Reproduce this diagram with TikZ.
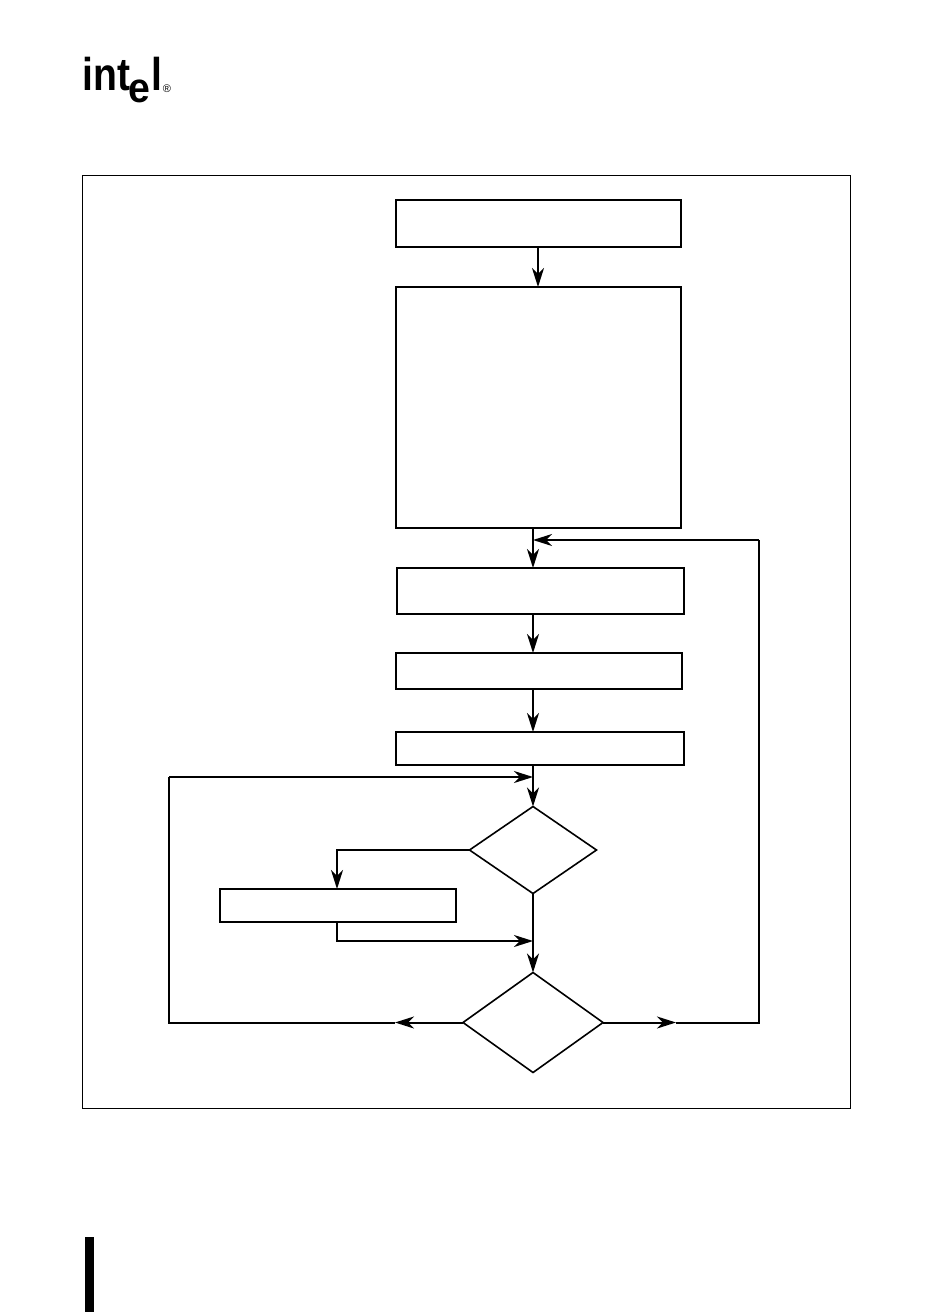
\documentclass[tikz,border=0pt]{standalone}
\usepackage{fontspec}
\setmainfont{Liberation Sans}
\usetikzlibrary{
  arrows.meta,
  shapes.geometric
}

\begin{document}
\begin{tikzpicture}[
  x=1pt, y=-1pt,
  every node/.style={inner sep=0pt, outer sep=0pt},
  flowbox/.style={draw, line width=2pt, minimum width=285pt},
  choice/.style={draw, diamond, line width=1.6pt},
  flow/.style={line width=2pt, -{Stealth[length=19pt, width=12pt, inset=6pt]}},
  wire/.style={line width=2pt},
  logotext/.style={font=\bfseries\fontsize{46}{46}\selectfont, anchor=base west, xscale=0.85}
]

\useasboundingbox (0,0) rectangle (936,1312);

% Logo
\node[logotext] (logoint) at (82.5,90) {int};
\node[logotext, font=\bfseries\fontsize{42}{42}\selectfont, xscale=1.1] (logoe) at (128.5,102) {e};
\node[logotext] (logol) at (151,90) {l};
\node[anchor=center, font=\fontsize{11}{11}\selectfont] (logoreg) at (167,88.5) {®};

% Frame
\node[draw, line width=1pt, minimum width=768pt, minimum height=933pt] (frame) at (466,641.5) {};

% Main column
\node[flowbox, minimum height=47pt] (box1) at (538.5,223.5) {};
\node[flowbox, minimum height=241pt] (box2) at (538.5,407.5) {};
\node[flowbox, minimum width=287pt, minimum height=46pt] (box3) at (540.5,591) {};
\node[flowbox, minimum width=286pt, minimum height=36pt] (box4) at (539,671) {};
\node[flowbox, minimum width=288pt, minimum height=33pt] (box5) at (540,748.5) {};

% Decisions
\node[choice, minimum width=127pt, minimum height=87pt] (test1) at (533,850) {};
\node[choice, minimum width=140pt, minimum height=100pt] (test2) at (533,1022.5) {};

% Side box
\node[flowbox, minimum width=236pt, minimum height=33pt] (box6) at (338,905.5) {};

% Page bar
\node[fill=black, minimum width=9pt, minimum height=75pt] (pagebar) at (89.5,1274.5) {};

% Junctions
\coordinate (stemtop) at (538,0);
\coordinate (stem) at (533,0);
\coordinate (sidestem) at (337,0);
\coordinate (backin) at (533,540);
\coordinate (backcorner) at (759,540);
\coordinate (loopin) at (533,777);
\coordinate (loopcorner) at (169,777);
\coordinate (sidein) at (533,941);
\coordinate (leftmid) at (395,1022.5);
\coordinate (rightmid) at (676,1022.5);

% Arrows
\draw[flow] (stemtop |- box1.south) -- (stemtop |- box2.north);
\draw[flow] (stem |- box2.south) -- (stem |- box3.north);
\draw[flow] (stem |- box3.south) -- (stem |- box4.north);
\draw[flow] (stem |- box4.south) -- (stem |- box5.north);
\draw[flow] (stem |- box5.south) -- (test1.north);
\draw[flow] (test1.south) -- (test2.north);

\draw[flow] (test1.west) -| (sidestem |- box6.north);
\draw[flow] (sidestem |- box6.south) |- (sidein);

\draw[flow] (test2.west) -- (leftmid);
\draw[wire] (leftmid) -- (leftmid -| loopcorner) -- (loopcorner);
\draw[flow] (loopcorner) -- (loopin);

\draw[flow] (test2.east) -- (rightmid);
\draw[wire] (rightmid) -- (rightmid -| backcorner) -- (backcorner);
\draw[flow] (backcorner) -- (backin);

\end{tikzpicture}
\end{document}
